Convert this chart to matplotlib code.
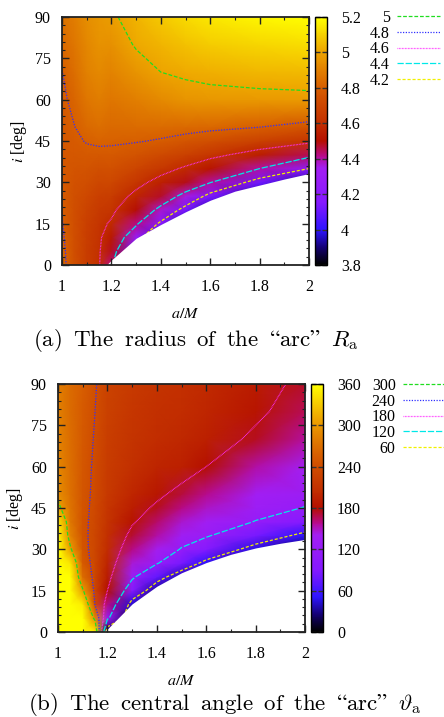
import numpy as np
import matplotlib
matplotlib.use("Agg")
import matplotlib.pyplot as plt
from matplotlib.colors import LinearSegmentedColormap
from matplotlib.lines import Line2D
from matplotlib.ticker import MultipleLocator, FuncFormatter

plt.rcParams["font.family"] = ["Liberation Serif", "DejaVu Serif"]
plt.rcParams["mathtext.fontset"] = "stix"

# sample grid: spin a/M and inclination i [deg]
spin = [1.0, 1.05, 1.1, 1.15, 1.2, 1.3, 1.4, 1.5, 1.6, 1.8, 2.0]
incl = [0, 5, 10, 15, 20, 25, 30, 35, 40, 45, 50, 60, 70, 80, 90]

# radius of the arc R_a, one row per spin value (columns follow incl)
radius = [
    [4.83, 4.825, 4.815, 4.805, 4.798, 4.79, 4.785, 4.78, 4.778, 4.776, 4.777, 4.785, 4.798, 4.83, 4.86],
    [4.74, 4.735, 4.73, 4.73, 4.735, 4.74, 4.75, 4.76, 4.77, 4.785, 4.798, 4.82, 4.85, 4.87, 4.89],
    [4.66, 4.66, 4.665, 4.675, 4.69, 4.71, 4.73, 4.755, 4.78, 4.805, 4.83, 4.87, 4.9, 4.92, 4.94],
    [4.61, 4.612, 4.618, 4.63, 4.65, 4.675, 4.705, 4.74, 4.777, 4.815, 4.845, 4.89, 4.925, 4.95, 4.97],
    [4.42, 4.48, 4.53, 4.585, 4.626, 4.664, 4.703, 4.742, 4.781, 4.81, 4.829, 4.868, 4.907, 4.946, 4.985],
    [3.95, 4.1, 4.28, 4.422, 4.496, 4.57, 4.635, 4.694, 4.753, 4.806, 4.836, 4.897, 4.958, 5.009, 5.04],
    [3.95, 3.95, 3.97, 4.165, 4.369, 4.473, 4.56, 4.641, 4.717, 4.792, 4.837, 4.93, 5.0, 5.04, 5.08],
    [3.95, 3.95, 3.95, 3.95, 4.132, 4.363, 4.484, 4.584, 4.676, 4.767, 4.832, 4.955, 5.017, 5.068, 5.12],
    [3.95, 3.95, 3.95, 3.95, 3.95, 4.14, 4.407, 4.52, 4.632, 4.737, 4.823, 4.965, 5.029, 5.089, 5.15],
    [3.95, 3.95, 3.95, 3.95, 3.95, 3.95, 4.115, 4.4, 4.549, 4.68, 4.8, 4.972, 5.042, 5.111, 5.18],
    [3.95, 3.95, 3.95, 3.95, 3.95, 3.95, 3.95, 4.2, 4.447, 4.628, 4.756, 4.976, 5.049, 5.125, 5.2],
]

# central angle of the arc [deg], same layout
angle = [
    [420, 410, 400, 390, 380, 372, 365, 358, 348, 308, 293, 288, 285, 283, 282],
    [400, 390, 380, 370, 360, 345, 305, 285, 277, 273, 271, 269, 268, 267, 267],
    [390, 370, 350, 305, 268, 254, 248, 246, 246, 247, 248, 250, 252, 254, 256],
    [350, 290, 238, 232, 231, 231, 231, 232, 233, 234, 235, 236, 238, 240, 242],
    [20, 128, 160, 180, 190, 198, 204, 208, 212, 215, 217, 220, 223, 225, 227],
    [20, 20, 43, 92, 127, 145, 160, 172, 183, 192, 199, 207, 212, 215, 218],
    [20, 20, 20, 35, 75, 123, 141, 154, 164, 175, 186, 197, 204, 208, 211],
    [20, 20, 20, 20, 38, 85, 118, 133, 147, 160, 171, 194, 201, 205, 207],
    [20, 20, 20, 20, 20, 50, 92, 124, 137, 148, 158, 180, 193, 199, 202],
    [20, 20, 20, 20, 20, 20, 45, 85, 119, 130, 138, 154, 175, 185, 191],
    [20, 20, 20, 20, 20, 20, 20, 50, 90, 119, 128, 140, 155, 167, 173],
]

# lower edge of the region where an arc exists
edge_spin = [1.18, 1.2, 1.3, 1.4, 1.5, 1.6, 1.7, 1.8, 1.9, 2.0]
edge_radius = [0, 1.8, 9.7, 14.7, 19.3, 23.5, 26.8, 29.0, 31.2, 33.2]
edge_angle = [0, 1.1, 10.2, 16.6, 21.5, 25.2, 28.2, 30.5, 32.2, 33.6]

radius_levels = [4.2, 4.4, 4.6, 4.8, 5.0]
radius_labels = ["4.2", "4.4", "4.6", "4.8", "5"]
radius_ticks = [3.8, 4.0, 4.2, 4.4, 4.6, 4.8, 5.0, 5.2]
angle_levels = [60, 120, 180, 240, 300]
angle_labels = ["60", "120", "180", "240", "300"]
angle_ticks = [0, 60, 120, 180, 240, 300, 360]

line_colors = ["#f0f000", "#00e8e8", "#ff30ff", "#3030ff", "#20dd20"]
line_styles = [(0, (2.5, 1.5)), (0, (5, 1.5)), (0, (0.6, 0.6)),
               (0, (1, 1.2)), (0, (3, 1.5))]

# black - blue - violet - dark red - orange - yellow palette
palette = LinearSegmentedColormap.from_list("arc", [
    (0.00, (0.0, 0.0, 0.0)),
    (0.07, (0.08, 0.0, 0.45)),
    (0.14, (0.18, 0.08, 1.0)),
    (0.25, (0.52, 0.1, 1.0)),
    (0.39, (0.64, 0.12, 0.95)),
    (0.44, (0.72, 0.04, 0.55)),
    (0.50, (0.71, 0.06, 0.0)),
    (0.57, (0.76, 0.18, 0.0)),
    (0.71, (0.84, 0.36, 0.0)),
    (0.86, (0.93, 0.64, 0.0)),
    (1.00, (1.0, 1.0, 0.0)),
])

W, H = 444, 717


def fig_rect(left, top, right, bottom):
    return [left / W, 1 - bottom / H, (right - left) / W, (bottom - top) / H]


def fmt(v, pos):
    return "%g" % v


def draw_panel(fig, rect, cbar_rect, field, edge_i, levels, labels,
               vmin, vmax, cticks, leg_anchor):
    ax = fig.add_axes(rect)
    z = np.array(field, dtype=float).T

    im = ax.pcolormesh(spin, incl, z, shading="gouraud", cmap=palette,
                       vmin=vmin, vmax=vmax)
    ax.contour(spin, incl, z, levels=levels, colors=line_colors,
               linestyles=line_styles, linewidths=0.9, zorder=2)
    ax.fill_between(edge_spin, 0, edge_i, color="white", lw=0, zorder=2.2)

    ax.set_xlim(1, 2)
    ax.set_ylim(0, 90)
    ax.set_axisbelow(False)
    ax.xaxis.set_major_locator(MultipleLocator(0.2))
    ax.xaxis.set_minor_locator(MultipleLocator(0.1))
    ax.yaxis.set_major_locator(MultipleLocator(15))
    ax.yaxis.set_minor_locator(MultipleLocator(3))
    ax.xaxis.set_major_formatter(FuncFormatter(fmt))
    ax.tick_params(which="both", direction="in", top=True, right=True,
                   labelsize=11.5, color="#222222")
    ax.tick_params(which="major", length=5, width=1.0)
    ax.tick_params(which="minor", length=2.5, width=0.8)
    ax.tick_params(axis="x", pad=10)
    ax.tick_params(axis="y", pad=8)
    for s in ax.spines.values():
        s.set_linewidth(1.3)
        s.set_color("#222222")
    ax.set_xlabel("$a/M$", fontsize=11.5, labelpad=8)
    ax.set_ylabel("$i$ [deg]", fontsize=11.5, labelpad=4)

    cax = fig.add_axes(cbar_rect)
    cb = fig.colorbar(im, cax=cax, ticks=cticks, format=FuncFormatter(fmt))
    cb.outline.set_linewidth(1.0)
    cax.tick_params(direction="in", left=True, right=True, length=3.5,
                    width=1.0, color="#333333", labelsize=11.5, pad=10)

    handles = [Line2D([], [], color=c, ls=s, lw=0.9)
               for c, s in zip(line_colors, line_styles)]
    ax.legend(handles[::-1], labels[::-1], loc="upper right",
              bbox_to_anchor=leg_anchor, bbox_transform=fig.transFigure,
              frameon=False, markerfirst=False, fontsize=11.5,
              handlelength=2.7, handletextpad=0.45, labelspacing=-0.02,
              borderpad=0, borderaxespad=0)
    return ax


def main():
    fig = plt.figure(figsize=(W / 100, H / 100), dpi=100)

    draw_panel(fig, fig_rect(62, 17, 309, 265), fig_rect(315, 17, 327, 265),
               radius, edge_radius, radius_levels, radius_labels,
               3.8, 5.2, radius_ticks, (440 / W, 1 - 10 / H))
    draw_panel(fig, fig_rect(58, 384, 305, 632), fig_rect(311, 384, 323, 632),
               angle, edge_angle, angle_levels, angle_labels,
               0, 360, angle_ticks, (446 / W, 1 - 378 / H))

    sp = r"\ \:"
    lq, rq = "\u201c", "\u201d"
    cap = dict(fontsize=16.5, math_fontfamily="cm", ha="left", va="baseline")
    words_a = ["(a)", "The", "radius", "of", "the", lq + "arc" + rq]
    words_b = ["(b)", "The", "central", "angle", "of", "the", lq + "arc" + rq]
    fig.text(33 / W, 1 - 346 / H,
             "$\\mathrm{" + sp.join(words_a) + "}" + sp + "R_\\mathrm{a}$",
             **cap)
    fig.text(28 / W, 1 - 710 / H,
             "$\\mathrm{" + sp.join(words_b) + "}" + sp
             + "\\vartheta_\\mathrm{a}$", **cap)

    fig.savefig("out.png", dpi=100)


if __name__ == "__main__":
    main()
